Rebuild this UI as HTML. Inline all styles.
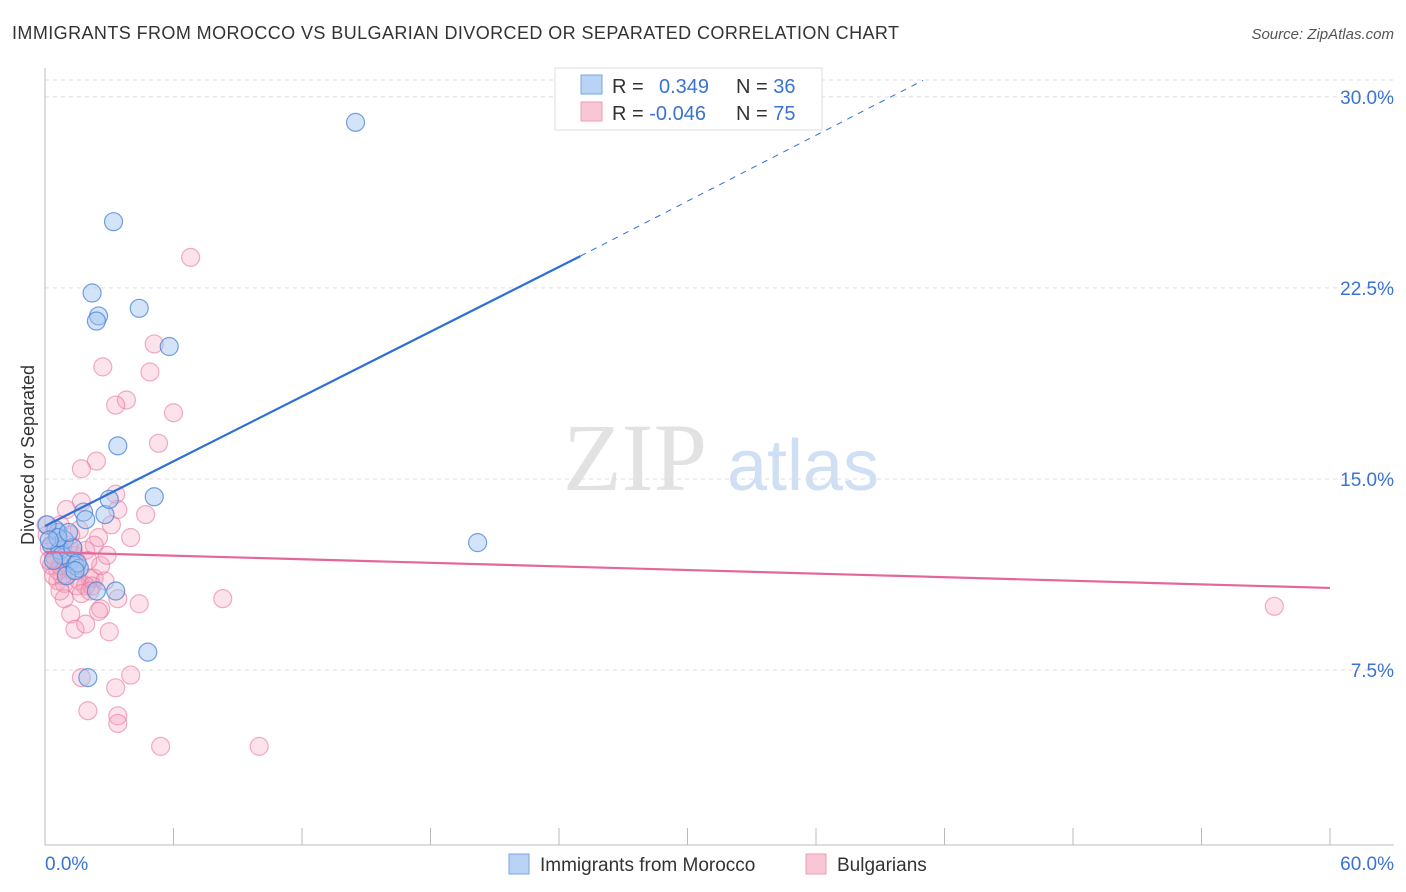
<!DOCTYPE html>
<html><head><meta charset="utf-8"><style>
body{margin:0;background:#fff;font-family:"Liberation Sans",sans-serif;}
#wrap{position:relative;width:1406px;height:892px;overflow:hidden;}
</style></head><body>
<div id="wrap">
<svg id="chart" width="1406" height="892">
<text x="12" y="39" font-size="18" fill="#333" textLength="887">IMMIGRANTS FROM MOROCCO VS BULGARIAN DIVORCED OR SEPARATED CORRELATION CHART</text>
<text x="1394" y="39" font-size="15" fill="#555" font-style="italic" text-anchor="end">Source: ZipAtlas.com</text>
<text x="635" y="490" font-size="96" fill="#e2e2e2" font-family="Liberation Serif" text-anchor="middle">ZIP</text>
<text x="803" y="490" font-size="72" fill="#cfdff4" text-anchor="middle">atlas</text>
<text transform="translate(34,455) rotate(-90)" font-size="18" fill="#333" text-anchor="middle">Divorced or Separated</text>
<g id="grid"></g><g id="axes"></g><g id="pts"></g><g id="lines"></g>
<g>
<rect x="555" y="68" width="267" height="62" fill="#fff" stroke="#ddd"/>
<rect x="581" y="75" width="21" height="19" fill="#b9d3f6" stroke="#7aa6e0"/>
<rect x="581" y="102" width="21" height="19" fill="#f9c6d5" stroke="#ee9db6"/>
<text x="612" y="93" font-size="20" fill="#333">R = <tspan fill="#3a73d0" x="659">0.349</tspan></text>
<text x="736" y="93" font-size="20" fill="#333">N = <tspan fill="#3a73d0">36</tspan></text>
<text x="612" y="120" font-size="20" fill="#333">R = <tspan fill="#3a73d0">-0.046</tspan></text>
<text x="736" y="120" font-size="20" fill="#333">N = <tspan fill="#3a73d0">75</tspan></text>
</g>
<g>
<rect x="509" y="854" width="20" height="20" fill="#b9d3f6" stroke="#7aa6e0"/>
<text x="540" y="871" font-size="19" fill="#333">Immigrants from Morocco</text>
<rect x="806" y="854" width="20" height="20" fill="#f9c6d5" stroke="#ee9db6"/>
<text x="837" y="871" font-size="19" fill="#333">Bulgarians</text>
</g>
</svg></div>
<script>
const blueX=[14.5,3.2,2.2,4.4,2.5,2.4,5.8,3.4,5.1,20.2,2.0,4.8,3.3,2.4,1.8,2.8,3.0,0.6,0.3,0.7,1.2,1.4,1.6,0.5,0.9,0.1,0.8,1.3,1.5,0.6,1.0,0.2,0.4,1.1,1.9,1.4];
const blueY=[29.0,25.1,22.3,21.7,21.4,21.2,20.2,16.3,14.3,12.5,7.2,8.2,10.6,10.6,13.7,13.6,14.2,12.9,12.4,12.2,11.8,11.6,11.5,13.0,12.6,13.2,12.0,12.3,11.7,12.7,11.2,12.6,11.8,12.9,13.4,11.4];
const pinkX=[6.8,5.1,2.7,4.9,3.8,3.3,6.0,5.3,2.4,1.7,3.3,1.7,1.0,4.7,3.4,3.1,4.0,2.5,1.6,0.7,1.1,1.4,1.9,0.5,0.3,0.8,0.6,1.3,0.9,1.6,2.1,2.3,1.9,1.5,2.2,0.9,3.4,4.4,8.3,2.6,2.5,1.2,1.4,1.9,3.0,1.7,4.0,3.3,2.0,3.4,3.4,5.4,10.0,57.4,0.05,0.1,0.2,0.4,0.5,0.7,0.8,1.0,1.2,1.3,0.6,0.2,0.4,0.7,1.7,2.1,2.8,2.6,2.0,2.3,2.9];
const pinkY=[23.7,20.3,19.4,19.2,18.1,17.9,17.6,16.4,15.7,15.4,14.4,14.1,13.8,13.6,13.8,13.2,12.7,12.7,13.0,13.2,12.4,12.0,12.2,11.8,11.6,11.2,11.0,11.4,10.9,11.0,11.1,11.1,10.8,10.8,10.8,10.3,10.3,10.1,10.3,9.9,9.8,9.7,9.1,9.3,9.0,7.2,7.3,6.8,5.9,5.7,5.4,4.5,4.5,10.0,13.2,12.8,12.3,12.0,12.5,11.6,12.3,11.7,12.8,12.3,11.4,11.8,11.2,10.6,10.5,10.6,11.0,11.6,11.8,12.4,12.0];
const yTicks=[7.5,15,22.5,30];
const yTickLabels=["7.5%","15.0%","22.5%","30.0%"];
const blueTrend=[[0,13.15],[25,23.75],[41,30.65]];
const pinkTrend=[[0,12.13],[60,10.72]];
const NS="http://www.w3.org/2000/svg";
const X=v=>45+v*(1285/60), Y=v=>861-v*25.47;
function mk(tag,at,parent){const e=document.createElementNS(NS,tag);for(const k in at)e.setAttribute(k,at[k]);document.getElementById(parent).appendChild(e);return e;}
let g=mk('line',{x1:45,x2:1394,y1:80,y2:80,stroke:'#ddd','stroke-dasharray':'4,4'},'grid');


yTicks.forEach((t,i)=>{
 const l=mk('line',{x1:45,x2:1394,y1:Y(t),y2:Y(t),stroke:'#ddd','stroke-dasharray':'4,4'},'grid');
 
 
 const tx=mk('text',{x:1394,y:Y(t)+7,'font-size':19,fill:'#3a73d0','text-anchor':'end'},'grid');
 tx.textContent=yTickLabels[i];
 
 
});
let a=mk('line',{x1:45,x2:45,y1:68,y2:845,stroke:'#bbb'},'axes');


a=mk('line',{x1:45,x2:1394,y1:845,y2:845,stroke:'#bbb'},'axes');


for(let i=0;i<=10;i++){const t=mk('line',{x1:X(i*6),x2:X(i*6),y1:828,y2:845,stroke:'#bbb'},'axes');
 
 }
let xl=mk('text',{x:45,y:870,'font-size':19,fill:'#3a73d0'},'axes');xl.textContent='0.0%';


xl=mk('text',{x:1394,y:870,'font-size':19,fill:'#3a73d0','text-anchor':'end'},'axes');xl.textContent='60.0%';


pinkX.forEach((x,i)=>{const c=mk('circle',{cx:X(x),cy:Y(pinkY[i]),r:9,fill:'rgba(244,160,188,0.3)',stroke:'rgba(232,120,156,0.6)','stroke-width':1.2},'pts');
 
 });
blueX.forEach((x,i)=>{const c=mk('circle',{cx:X(x),cy:Y(blueY[i]),r:9,fill:'rgba(160,196,240,0.45)',stroke:'rgba(70,130,215,0.75)','stroke-width':1.2},'pts');
 
 });
let ln=mk('line',{x1:X(blueTrend[0][0]),y1:Y(blueTrend[0][1]),x2:X(blueTrend[1][0]),y2:Y(blueTrend[1][1]),stroke:'#2c6fd6','stroke-width':2.2},'lines');


ln=mk('line',{x1:X(blueTrend[1][0]),y1:Y(blueTrend[1][1]),x2:X(blueTrend[2][0]),y2:Y(blueTrend[2][1]),stroke:'#2c6fd6','stroke-width':1,'stroke-dasharray':'6,6'},'lines');


ln=mk('line',{x1:X(pinkTrend[0][0]),y1:Y(pinkTrend[0][1]),x2:X(pinkTrend[1][0]),y2:Y(pinkTrend[1][1]),stroke:'#e4679a','stroke-width':2.2},'lines');


</script>
</body></html>
